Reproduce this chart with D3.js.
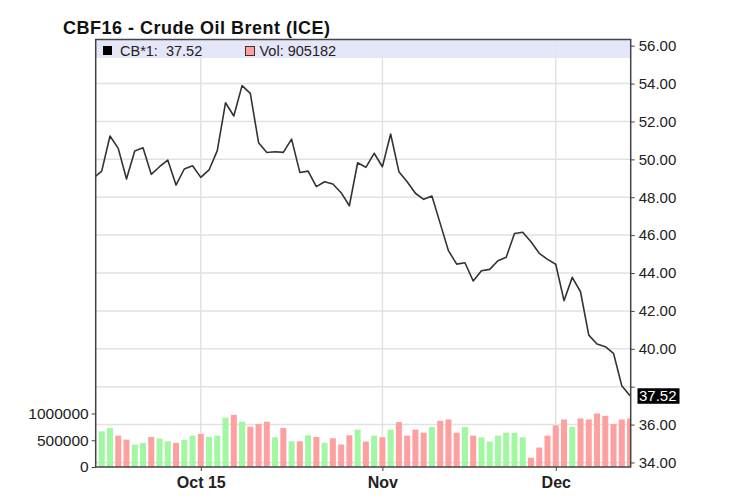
<!DOCTYPE html>
<html>
<head>
<meta charset="utf-8">
<script src="https://cdn.jsdelivr.net/npm/d3@7"></script>
<style>
  body { margin: 0; background: #fff; }
  svg { display: block; font-family: "Liberation Sans", Arial, sans-serif; }
</style>
</head>
<body>
<div id="chart"></div>
<script>
const width = 744;
const height = 501;

// trading days, Sep 14 2015 .. Dec 14 2015 (first one sits just left of the frame)
const dates = [
  "2015-09-14","2015-09-15","2015-09-16","2015-09-17","2015-09-18","2015-09-21","2015-09-22",
  "2015-09-23","2015-09-24","2015-09-25","2015-09-28","2015-09-29","2015-09-30",
  "2015-10-01","2015-10-02","2015-10-05","2015-10-06","2015-10-07","2015-10-08","2015-10-09",
  "2015-10-12","2015-10-13","2015-10-14","2015-10-15","2015-10-16","2015-10-19","2015-10-20",
  "2015-10-21","2015-10-22","2015-10-23","2015-10-26","2015-10-27","2015-10-28","2015-10-29",
  "2015-10-30",
  "2015-11-02","2015-11-03","2015-11-04","2015-11-05","2015-11-06","2015-11-09","2015-11-10",
  "2015-11-11","2015-11-12","2015-11-13","2015-11-16","2015-11-17","2015-11-18","2015-11-19",
  "2015-11-20","2015-11-23","2015-11-24","2015-11-25","2015-11-26","2015-11-27","2015-11-30",
  "2015-12-01","2015-12-02","2015-12-03","2015-12-04","2015-12-07","2015-12-08","2015-12-09",
  "2015-12-10","2015-12-11","2015-12-14"
];

const prices = [
  49.01, 49.38, 51.23, 50.58, 48.96, 50.44, 50.61, 49.21, 49.61, 49.96, 48.64, 49.49, 49.66,
  49.05, 49.44, 50.46, 52.99, 52.29, 53.89, 53.48, 50.88, 50.36, 50.40, 50.37, 51.07, 49.31,
  49.38, 48.56, 48.82, 48.70, 48.24, 47.55, 49.82, 49.58, 50.32,
  49.61, 51.34, 49.35, 48.82, 48.21, 47.89, 48.06, 46.62, 45.18, 44.47, 44.54, 43.58, 44.12,
  44.19, 44.65, 44.83, 46.09, 46.15, 45.65, 45.04, 44.72,
  44.46, 42.54, 43.77, 43.01, 40.72, 40.25, 40.11, 39.76, 38.05, 37.52
];

const volumes = [
  null, 667000, 728000, 586000, 512000, 420000, 451000, 562000, 531000, 481000, 451000, 506000, 586000,
  617000, 562000, 586000, 920000, 975000, 846000, 753000, 802000, 846000, 556000, 728000, 481000,
  481000, 593000, 562000, 451000, 537000, 420000, 593000, 698000, 475000, 586000,
  556000, 698000, 840000, 586000, 698000, 642000, 747000, 864000, 889000, 642000, 747000, 586000,
  556000, 475000, 586000, 642000, 642000, 556000, 173000, 364000, 586000,
  778000, 889000, 747000, 907000, 889000, 1000000, 957000, 802000, 889000, 905182
];

const priceTicks = [34, 36, 38, 40, 42, 44, 46, 48, 50, 52, 54, 56];
const volTicks = [0, 500000, 1000000];
const monthTicks = [
  { date: "2015-10-01", label: "Oct 15" },
  { date: "2015-11-02", label: "Nov" },
  { date: "2015-12-01", label: "Dec" }
];

const title = "CBF16 - Crude Oil Brent (ICE)";
const seriesName = "CB*1";

const plotLeft = 95.7, plotRight = 630.7, plotTop = 39.5, plotBottom = 467;

const x = d3.scaleLinear().domain([0.27, 65.08]).range([plotLeft, plotRight]);
const y = d3.scaleLinear().domain([33.76, 56.3]).range([plotBottom, 40]);
const yVol = d3.scaleLinear().domain([0, 1000000]).range([plotBottom, 413.5]);

const last = prices[prices.length - 1];

const svg = d3.select("#chart")
  .append("svg")
  .attr("width", width)
  .attr("height", height)
  .attr("viewBox", [0, 0, width, height]);

svg.append("defs").append("clipPath")
    .attr("id", "plot-clip")
  .append("rect")
    .attr("x", plotLeft)
    .attr("y", plotTop)
    .attr("width", plotRight - plotLeft)
    .attr("height", plotBottom - plotTop);

// grid
const grid = svg.append("g")
    .attr("stroke", "#e2e2e2")
    .attr("stroke-width", 1.5);
grid.selectAll("line.h")
  .data(priceTicks)
  .join("line")
    .attr("class", "h")
    .attr("x1", plotLeft)
    .attr("x2", plotRight)
    .attr("y1", d => y(d))
    .attr("y2", d => y(d));
grid.selectAll("line.v")
  .data(monthTicks)
  .join("line")
    .attr("class", "v")
    .attr("x1", d => x(dates.indexOf(d.date)))
    .attr("x2", d => x(dates.indexOf(d.date)))
    .attr("y1", plotTop)
    .attr("y2", plotBottom);

// legend band
svg.append("rect")
  .attr("x", plotLeft)
  .attr("y", plotTop)
  .attr("width", plotRight - plotLeft)
  .attr("height", 18.5)
  .attr("fill", "#e4e4f8")
  .attr("fill-opacity", 0.92);

const plot = svg.append("g").attr("clip-path", "url(#plot-clip)");

// volume bars, coloured by the day's price change
plot.append("g")
  .selectAll("rect")
  .data(volumes.map((v, i) => ({ v, i })).filter(d => d.v !== null))
  .join("rect")
    .attr("x", d => x(d.i) - 3)
    .attr("width", 6)
    .attr("y", d => yVol(d.v))
    .attr("height", d => yVol(0) - yVol(d.v))
    .attr("fill", d => prices[d.i] >= prices[d.i - 1] ? "#a2f7a2" : "#ffa0a0");

// price line
plot.append("path")
  .datum(prices)
  .attr("fill", "none")
  .attr("stroke", "#333")
  .attr("stroke-width", 1.6)
  .attr("stroke-linejoin", "round")
  .attr("d", d3.line().x((d, i) => x(i)).y(d => y(d)));

// frame
svg.append("path")
  .attr("fill", "none")
  .attr("stroke", "#444")
  .attr("stroke-width", 1.5)
  .attr("d", `M${plotLeft},${plotTop}H${plotRight}V${plotBottom}H${plotLeft}Z`);

// right price axis (labels hidden under the last-price box are dropped)
const rightAxis = svg.append("g")
  .attr("transform", `translate(${plotRight},0)`)
  .call(d3.axisRight(y).tickValues(priceTicks)
    .tickFormat(d => Math.abs(y(d) - y(last)) < 14 ? "" : d3.format(".2f")(d))
    .tickSize(4).tickPadding(4));
rightAxis.select(".domain").remove();
rightAxis.selectAll("text")
  .attr("fill", "#222")
  .attr("font-size", 15)
  .attr("font-family", "'Liberation Sans', Arial, sans-serif");
rightAxis.selectAll("line").attr("stroke", "#444");

// last price marker
svg.append("rect")
  .attr("x", 637.5)
  .attr("y", y(last) - 7.5)
  .attr("width", 42)
  .attr("height", 15.5)
  .attr("fill", "#000");
svg.append("text")
  .attr("x", 639)
  .attr("y", y(last) + 5.5)
  .attr("fill", "#fff")
  .attr("font-size", 15)
  .text(d3.format(".2f")(last));

// left volume axis
const leftAxis = svg.append("g")
  .attr("transform", `translate(${plotLeft},0)`)
  .call(d3.axisLeft(yVol).tickValues(volTicks).tickFormat(d3.format("d")).tickSize(4).tickPadding(3));
leftAxis.select(".domain").remove();
leftAxis.selectAll("text")
  .attr("fill", "#222")
  .attr("font-size", 15.5)
  .attr("font-family", "'Liberation Sans', Arial, sans-serif");
leftAxis.selectAll("line").attr("stroke", "#444");

// bottom month axis
const bottomAxis = svg.append("g")
  .attr("transform", `translate(0,${plotBottom})`)
  .call(d3.axisBottom(x)
    .tickValues(monthTicks.map(d => dates.indexOf(d.date)))
    .tickFormat(i => monthTicks.find(d => dates.indexOf(d.date) === i).label)
    .tickSize(4).tickPadding(6));
bottomAxis.select(".domain").remove();
bottomAxis.selectAll("text")
  .attr("fill", "#222")
  .attr("font-size", 16)
  .attr("font-weight", "bold")
  .attr("font-family", "'Liberation Sans', Arial, sans-serif");
bottomAxis.selectAll("line").attr("stroke", "#444");

// title
svg.append("text")
  .attr("x", 63)
  .attr("y", 34)
  .attr("font-size", 18)
  .attr("letter-spacing", 0.5)
  .attr("font-weight", "bold")
  .attr("fill", "#111")
  .text(title);

// legend
svg.append("rect")
  .attr("x", 103)
  .attr("y", 46)
  .attr("width", 9)
  .attr("height", 9)
  .attr("fill", "#000");
svg.append("text")
  .attr("x", 120)
  .attr("y", 56)
  .attr("font-size", 14.5)
  .attr("fill", "#222")
  .attr("word-spacing", 4)
  .text(`${seriesName}: ${d3.format(".2f")(last)}`);
svg.append("rect")
  .attr("x", 245.5)
  .attr("y", 46.5)
  .attr("width", 9)
  .attr("height", 9)
  .attr("fill", "#ffa0a0")
  .attr("stroke", "#333")
  .attr("stroke-width", 1);
svg.append("text")
  .attr("x", 259.5)
  .attr("y", 56)
  .attr("font-size", 14.5)
  .attr("fill", "#222")
  .text(`Vol: ${volumes[volumes.length - 1]}`);
</script>
</body>
</html>
